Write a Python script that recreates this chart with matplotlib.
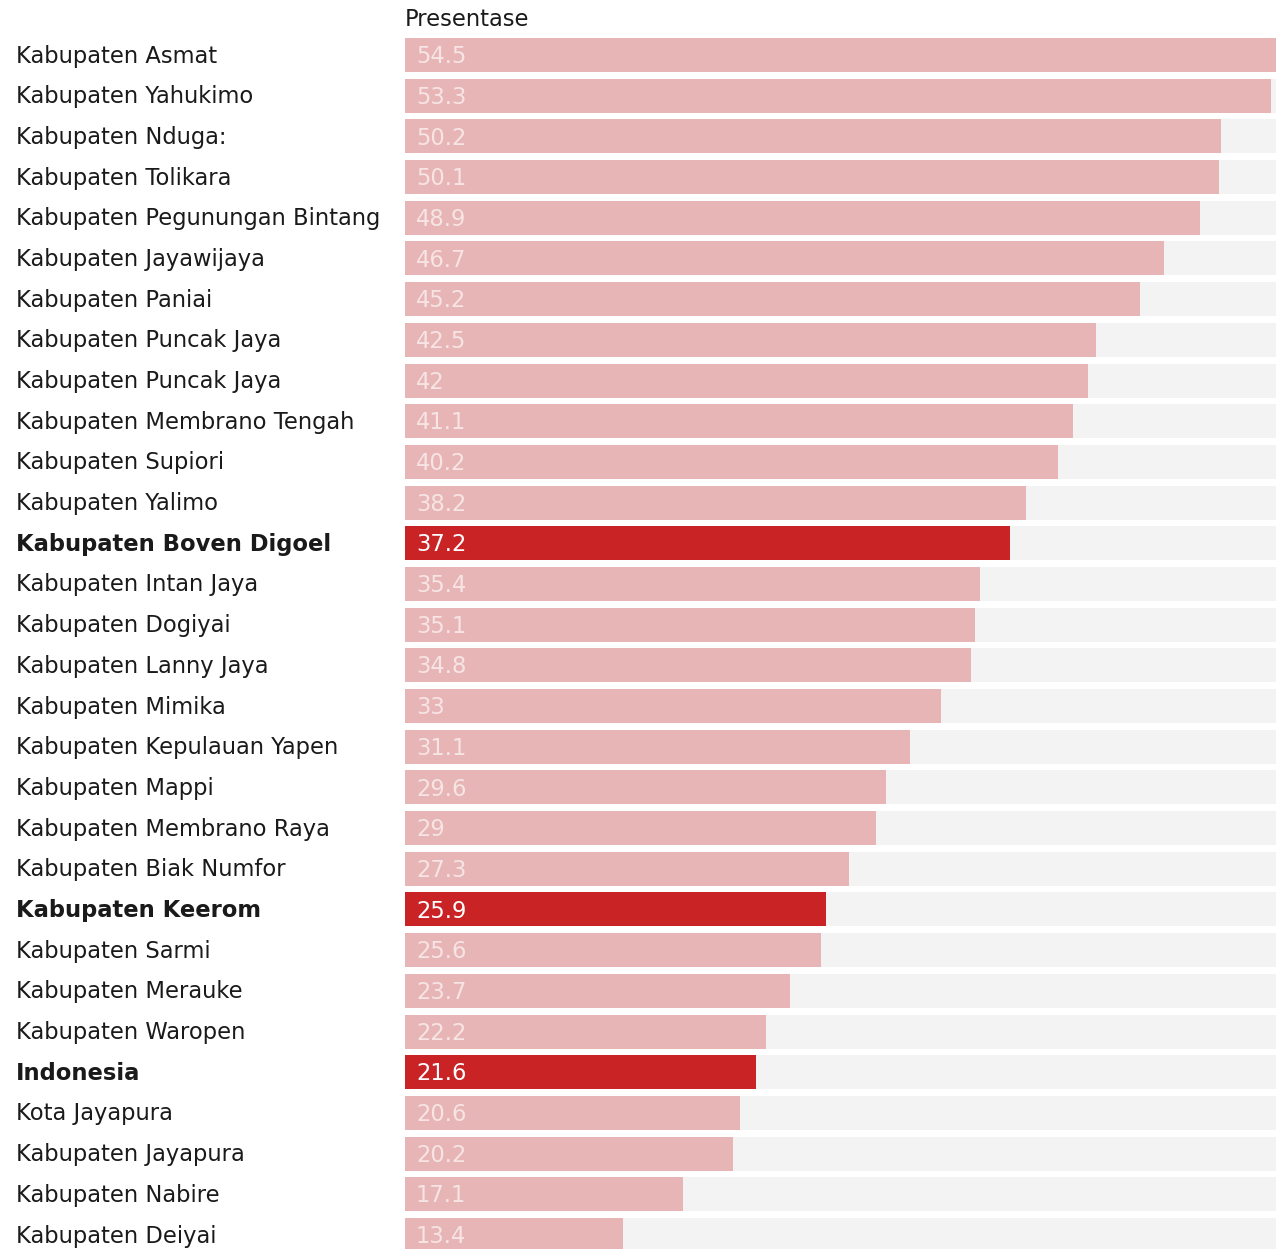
import matplotlib.pyplot as plt

plt.rcParams['font.family'] = ['DejaVu Sans']

names = ["Kabupaten Asmat", "Kabupaten Yahukimo", "Kabupaten Nduga:", "Kabupaten Tolikara",
         "Kabupaten Pegunungan Bintang", "Kabupaten Jayawijaya", "Kabupaten Paniai",
         "Kabupaten Puncak Jaya", "Kabupaten Puncak Jaya", "Kabupaten Membrano Tengah",
         "Kabupaten Supiori", "Kabupaten Yalimo", "Kabupaten Boven Digoel",
         "Kabupaten Intan Jaya", "Kabupaten Dogiyai", "Kabupaten Lanny Jaya",
         "Kabupaten Mimika", "Kabupaten Kepulauan Yapen", "Kabupaten Mappi",
         "Kabupaten Membrano Raya", "Kabupaten Biak Numfor", "Kabupaten Keerom",
         "Kabupaten Sarmi", "Kabupaten Merauke", "Kabupaten Waropen", "Indonesia",
         "Kota Jayapura", "Kabupaten Jayapura", "Kabupaten Nabire", "Kabupaten Deiyai"]
values = [54.5, 53.3, 50.2, 50.1, 48.9, 46.7, 45.2, 42.5, 42, 41.1, 40.2, 38.2, 37.2,
          35.4, 35.1, 34.8, 33, 31.1, 29.6, 29, 27.3, 25.9, 25.6, 23.7, 22.2, 21.6,
          20.6, 20.2, 17.1, 13.4]
labels = ["54.5", "53.3", "50.2", "50.1", "48.9", "46.7", "45.2", "42.5", "42", "41.1",
          "40.2", "38.2", "37.2", "35.4", "35.1", "34.8", "33", "31.1", "29.6", "29",
          "27.3", "25.9", "25.6", "23.7", "22.2", "21.6", "20.6", "20.2", "17.1", "13.4"]
highlight = ["Kabupaten Boven Digoel", "Kabupaten Keerom", "Indonesia"]

W, H = 1276, 1249
fig = plt.figure(figsize=(W / 100, H / 100), dpi=100)
ax = fig.add_axes([405 / W, 0, 1 - 405 / W, 1])

xmax = 871 / 16.25
pitch = 40.69
n = len(values)
ys = list(range(n))
bh = 34 / pitch
fs = 16.3

ax.barh(ys, [xmax * 1.05] * n, height=bh, color='#f3f3f3', zorder=1)
cols = ['#c92326' if nm in highlight else '#e7b5b6' for nm in names]
ax.barh(ys, values, height=bh, color=cols, zorder=2)

for i, (nm, v, lb) in enumerate(zip(names, values, labels)):
    hl = nm in highlight
    ax.text(11 / 16.25, i + 0.04, lb, color='white' if hl else '#f7e4e4', fontsize=fs,
            va='center', ha='left', zorder=3)
    fig.text(16 / W, 1 - (56 + pitch * i) / H, nm, fontsize=fs,
             fontweight='bold' if hl else 'normal', color='#1a1a1a',
             va='center', ha='left')

fig.text(405 / W, 1 - 19 / H, "Presentase", fontsize=fs, color='#1a1a1a',
         va='center', ha='left')

ax.set_xlim(0, xmax)
ax.set_ylim(n - 1 + (H - 55 - pitch * (n - 1)) / pitch, -55 / pitch)
ax.axis('off')

fig.savefig('out.png', dpi=100)
